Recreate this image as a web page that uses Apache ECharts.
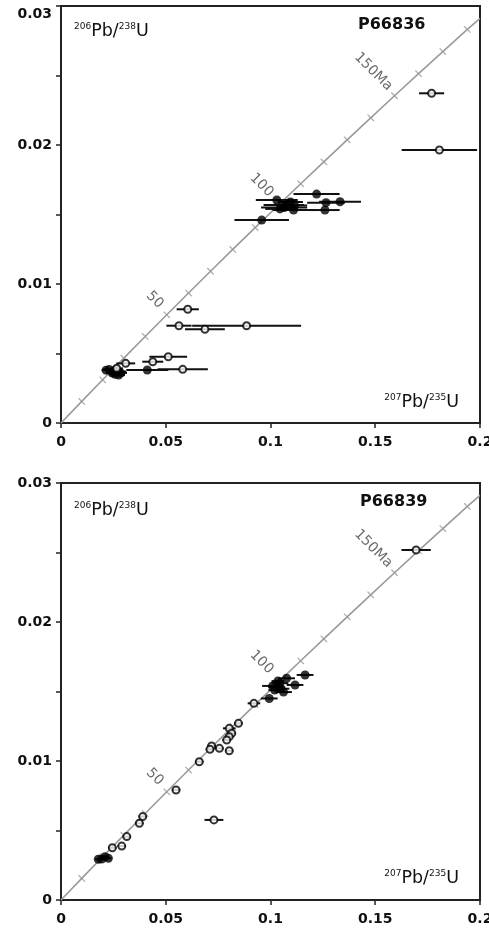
<!DOCTYPE html>
<html>
<head>
<meta charset="utf-8">
<script src="https://cdn.jsdelivr.net/npm/echarts@6/dist/echarts.min.js"></script>
<style>
html, body { margin: 0; padding: 0; background: #fff; }
#main { width: 489px; height: 933px; }
</style>
</head>
<body>
<div id="main"></div>
<script>
// concordia curve, 206Pb/238U vs 207Pb/235U, 0 - 185 Ma
var curveX = [0, 0.009897, 0.019892, 0.029986, 0.040180, 0.050475, 0.060872, 0.071371, 0.081975, 0.092683, 0.103497,
	0.114419, 0.125448, 0.136586, 0.147833, 0.159200, 0.170668, 0.182258, 0.193963, 0.2];
var curveY = [0, 0.0015525, 0.0031073, 0.0046646, 0.0062243, 0.0077864, 0.0093509, 0.010918, 0.012487, 0.014059, 0.015633,
	0.017210, 0.018789, 0.020371, 0.021955, 0.023542, 0.025131, 0.026722, 0.028316, 0.02911];
// age marks every 10 Ma (index into curve arrays)
var markAge = [10, 20, 30, 40, 50, 60, 70, 80, 90, 100, 110, 120, 130, 140, 150, 160, 170, 180];
var labelAge = [50, 100, 150];
var labelText = ['50', '100', '150Ma'];

// tick labels
var xTicks = ['0', '0.05', '0.1', '0.15', '0.2'];
var yTicks = ['0', '0.01', '0.02', '0.03'];

// P66836 (top)
var p36FilledX = [0.1030, 0.1057, 0.1080, 0.1110, 0.1095, 0.1065, 0.1220, 0.1265, 0.1332, 0.1260, 0.0958, 0.1045, 0.1115,
	0.0412, 0.0230, 0.0245, 0.0258, 0.0272, 0.0285, 0.0262, 0.0215, 0.0275];
var p36FilledY = [0.01604, 0.01568, 0.01568, 0.01532, 0.01590, 0.01550, 0.01647, 0.01585, 0.01592, 0.01532, 0.01460, 0.01540, 0.01565,
	0.00381, 0.00385, 0.00360, 0.00350, 0.00370, 0.00360, 0.00385, 0.00380, 0.00345];
var p36FilledErr = [0.010, 0.009, 0.008, 0.010, 0.006, 0.011, 0.011, 0.009, 0.010, 0.007, 0.013, 0.007, 0.006,
	0.010, 0.003, 0.003, 0.003, 0.004, 0.003, 0.003, 0.002, 0.003];
var p36OpenX = [0.1769, 0.1806, 0.0605, 0.0563, 0.0886, 0.0687, 0.0512, 0.0438, 0.0581, 0.0309, 0.0266];
var p36OpenY = [0.02372, 0.01964, 0.00818, 0.00700, 0.00700, 0.00674, 0.00477, 0.00441, 0.00386, 0.00429, 0.00393];
var p36OpenErr = [0.006, 0.018, 0.0053, 0.006, 0.026, 0.0095, 0.009, 0.005, 0.012, 0.0045, 0.003];

// P66839 (bottom)
var p39FilledX = [0.1077, 0.1165, 0.1117, 0.1062, 0.0994, 0.1010, 0.1030, 0.1045, 0.1020, 0.1050, 0.1035,
	0.0178, 0.0194, 0.0210, 0.0226];
var p39FilledY = [0.01595, 0.01619, 0.01547, 0.01496, 0.01450, 0.01540, 0.01530, 0.01560, 0.01510, 0.01520, 0.01575,
	0.00293, 0.00295, 0.00312, 0.00300];
var p39FilledErr = [0.004, 0.004, 0.004, 0.004, 0.004, 0.005, 0.004, 0.004, 0.003, 0.004, 0.003,
	0.0015, 0.0015, 0.0015, 0.0015];
var p39OpenX = [0.1695, 0.0921, 0.0847, 0.0803, 0.0815, 0.0803, 0.0791, 0.0719, 0.0711, 0.0756, 0.0803, 0.0660,
	0.0549, 0.0390, 0.0374, 0.0314, 0.0290, 0.0245, 0.0730];
var p39OpenY = [0.02518, 0.01415, 0.01271, 0.01235, 0.01200, 0.01175, 0.01151, 0.01108, 0.01084, 0.01091, 0.01074, 0.00995,
	0.00791, 0.00600, 0.00552, 0.00456, 0.00388, 0.00376, 0.00576];
var p39OpenErr = [0.007, 0.003, 0.002, 0.003, 0.002, 0.002, 0.002, 0.002, 0.002, 0.002, 0.002, 0.002,
	0.002, 0.002, 0.002, 0.002, 0.002, 0.002, 0.0045];

var FONT = '"DejaVu Sans", Verdana, sans-serif';

function zip(xs, ys, es) {
	var out = [];
	for (var i = 0; i < xs.length; i++) {
		out.push(es ? [xs[i], ys[i], es[i]] : [xs[i], ys[i]]);
	}
	return out;
}

function errBars(xs, ys, es, gi) {
	return {
		type: 'custom',
		xAxisIndex: gi,
		yAxisIndex: gi,
		silent: true,
		z: 3,
		clip: true,
		encode: { x: 0, y: 1 },
		data: zip(xs, ys, es),
		renderItem: function (params, api) {
			var p1 = api.coord([api.value(0) - api.value(2), api.value(1)]);
			var p2 = api.coord([api.value(0) + api.value(2), api.value(1)]);
			return {
				type: 'line',
				shape: { x1: p1[0], y1: p1[1], x2: p2[0], y2: p2[1] },
				style: { stroke: '#111', lineWidth: 2 }
			};
		}
	};
}

function concordia(gi) {
	// label offsets are given in the rotated (-45deg) text frame
	var offs = [[-19, -2], [-26, -3], [-32, -2]];
	var marks = [];
	for (var i = 0; i < markAge.length; i++) {
		var k = i + 1;
		var item = { value: [curveX[k], curveY[k]] };
		var li = labelAge.indexOf(markAge[i]);
		if (li >= 0) {
			item.label = {
				show: true,
				formatter: labelText[li],
				rotate: -45,
				position: 'inside',
				offset: offs[li],
				color: '#444',
				fontSize: 14,
				fontFamily: FONT
			};
		}
		marks.push(item);
	}
	return [{
		type: 'line',
		xAxisIndex: gi,
		yAxisIndex: gi,
		silent: true,
		showSymbol: false,
		z: 1,
		lineStyle: { color: '#9a9a9a', width: 1.6 },
		data: zip(curveX, curveY)
	}, {
		type: 'scatter',
		xAxisIndex: gi,
		yAxisIndex: gi,
		silent: true,
		z: 2,
		symbol: 'rect',
		symbolSize: [1.3, 9],
		symbolRotate: 45,
		itemStyle: { color: '#9a9a9a' },
		data: marks
	}];
}

function points(xs, ys, filled, gi) {
	return {
		type: 'scatter',
		xAxisIndex: gi,
		yAxisIndex: gi,
		silent: true,
		z: 4,
		symbol: 'circle',
		symbolSize: filled ? 9 : 7,
		itemStyle: filled ? { color: '#000' } : { color: '#fff', borderColor: '#000', borderWidth: 2 },
		data: zip(xs, ys)
	};
}

function xAxisCfg(gi) {
	return {
		type: 'value',
		gridIndex: gi,
		min: 0,
		max: 0.2,
		interval: 0.05,
		splitLine: { show: false },
		axisLine: { lineStyle: { color: '#222', width: 2 } },
		axisTick: { length: 5, lineStyle: { color: '#222', width: 1.5 } },
		axisLabel: {
			margin: 12,
			color: '#111',
			fontSize: 14,
			fontWeight: 'bold',
			fontFamily: FONT,
			formatter: function (v) {
				return xTicks[Math.round(v / 0.05)];
			}
		}
	};
}

function yAxisCfg(gi) {
	return {
		type: 'value',
		gridIndex: gi,
		min: 0,
		max: 0.03,
		interval: 0.005,
		splitLine: { show: false },
		axisLine: { lineStyle: { color: '#222', width: 2 } },
		axisTick: { length: 5, lineStyle: { color: '#222', width: 1.5 } },
		axisLabel: {
			margin: 9,
			color: '#111',
			fontSize: 14,
			fontWeight: 'bold',
			fontFamily: FONT,
			rich: {
				t: { fontSize: 14, fontWeight: 'bold', fontFamily: FONT, color: '#111', padding: [16, 0, 0, 0] }
			},
			formatter: function (v) {
				var k = Math.round(v / 0.005);
				if (k % 2 != 0) return '';
				var s = yTicks[k / 2];
				if (gi == 0 && k == 6) return '{t|' + s + '}';
				return s;
			}
		}
	};
}

function ratioLabel(x, y, top, bottom, align) {
	return {
		type: 'text',
		x: x,
		y: y,
		silent: true,
		style: {
			text: '{s|' + top + '}{m|Pb/}{s|' + bottom + '}{m|U}',
			align: align,
			verticalAlign: 'middle',
			rich: {
				s: { fontSize: 9, fontFamily: FONT, fill: '#111', verticalAlign: 'top', lineHeight: 18 },
				m: { fontSize: 17.5, fontFamily: FONT, fill: '#111', verticalAlign: 'bottom', lineHeight: 18 }
			}
		}
	};
}

function sampleLabel(x, y, text) {
	return {
		type: 'text',
		x: x,
		y: y,
		silent: true,
		style: {
			text: text,
			fill: '#111',
			font: 'bold 16px ' + FONT,
			verticalAlign: 'middle'
		}
	};
}

var dom = document.getElementById('main');
var chart = echarts.init(dom);

var series = [];
series = series.concat(concordia(0), concordia(1));
series.push(errBars(p36FilledX, p36FilledY, p36FilledErr, 0));
series.push(errBars(p36OpenX, p36OpenY, p36OpenErr, 0));
series.push(errBars(p39FilledX, p39FilledY, p39FilledErr, 1));
series.push(errBars(p39OpenX, p39OpenY, p39OpenErr, 1));
series.push(points(p36FilledX, p36FilledY, true, 0));
series.push(points(p36OpenX, p36OpenY, false, 0));
series.push(points(p39FilledX, p39FilledY, true, 1));
series.push(points(p39OpenX, p39OpenY, false, 1));

var option = {
	animation: false,
	backgroundColor: '#fff',
	grid: [
		{ left: 61, top: 6, width: 419, height: 417, outerBoundsMode: 'none', show: true, borderColor: '#222', borderWidth: 2 },
		{ left: 61, top: 483, width: 419, height: 417, outerBoundsMode: 'none', show: true, borderColor: '#222', borderWidth: 2 }
	],
	xAxis: [xAxisCfg(0), xAxisCfg(1)],
	yAxis: [yAxisCfg(0), yAxisCfg(1)],
	series: series,
	graphic: [
		ratioLabel(74, 31, '206', '238', 'left'),
		ratioLabel(459, 402, '207', '235', 'right'),
		ratioLabel(74, 510, '206', '238', 'left'),
		ratioLabel(459, 878, '207', '235', 'right'),
		sampleLabel(358, 25, 'P66836'),
		sampleLabel(360, 502, 'P66839')
	]
};

chart.setOption(option, true);
window.addEventListener('resize', function (e) {
	chart.resize();
});
</script>
</body>
</html>
